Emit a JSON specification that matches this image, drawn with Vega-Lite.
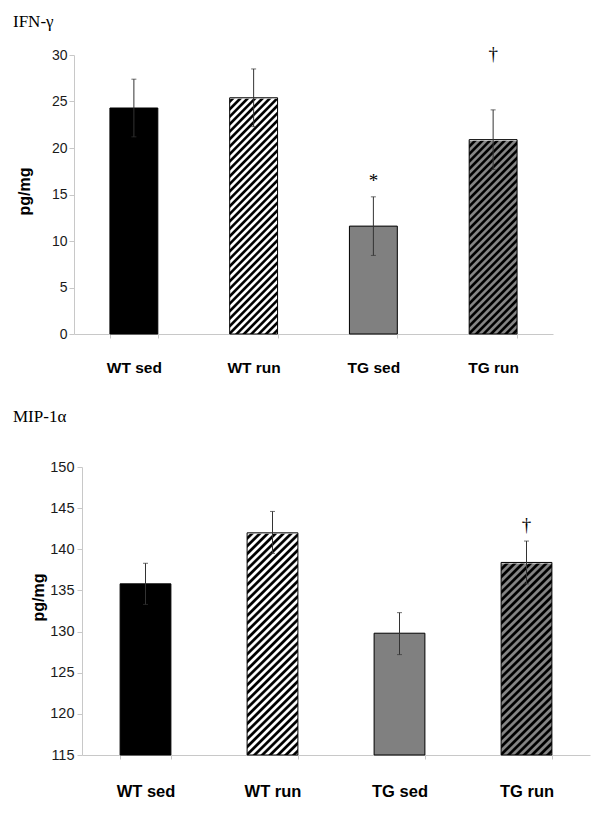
{
  "$schema": "https://vega.github.io/schema/vega-lite/v6.json",
  "background": "white",
  "padding": {"left": 13, "top": 12, "right": 10, "bottom": 10},
  "columns": 1,
  "align": "none",
  "spacing": 32,
  "resolve": {"scale": {"x": "independent", "y": "independent"}},
  "params": [
    {"name": "gWT", "value": {"gradient": "linear", "x1": 0, "y1": 0, "x2": 0.2265, "y2": 1.301, "stops": [
        {"offset":0.002,"color":"#000"},{"offset":0.008,"color":"#000"},{"offset":0.012,"color":"#fff"},{"offset":0.018,"color":"#fff"},{"offset":0.022,"color":"#000"},{"offset":0.028,"color":"#000"},{"offset":0.032,"color":"#fff"},{"offset":0.038,"color":"#fff"},{"offset":0.042,"color":"#000"},{"offset":0.048,"color":"#000"},{"offset":0.052,"color":"#fff"},{"offset":0.058,"color":"#fff"},{"offset":0.062,"color":"#000"},{"offset":0.068,"color":"#000"},{"offset":0.072,"color":"#fff"},{"offset":0.078,"color":"#fff"},{"offset":0.082,"color":"#000"},{"offset":0.088,"color":"#000"},{"offset":0.092,"color":"#fff"},{"offset":0.098,"color":"#fff"},
        {"offset":0.102,"color":"#000"},{"offset":0.108,"color":"#000"},{"offset":0.112,"color":"#fff"},{"offset":0.118,"color":"#fff"},{"offset":0.122,"color":"#000"},{"offset":0.128,"color":"#000"},{"offset":0.132,"color":"#fff"},{"offset":0.138,"color":"#fff"},{"offset":0.142,"color":"#000"},{"offset":0.148,"color":"#000"},{"offset":0.152,"color":"#fff"},{"offset":0.158,"color":"#fff"},{"offset":0.162,"color":"#000"},{"offset":0.168,"color":"#000"},{"offset":0.172,"color":"#fff"},{"offset":0.178,"color":"#fff"},{"offset":0.182,"color":"#000"},{"offset":0.188,"color":"#000"},{"offset":0.192,"color":"#fff"},{"offset":0.198,"color":"#fff"},
        {"offset":0.202,"color":"#000"},{"offset":0.208,"color":"#000"},{"offset":0.212,"color":"#fff"},{"offset":0.218,"color":"#fff"},{"offset":0.222,"color":"#000"},{"offset":0.228,"color":"#000"},{"offset":0.232,"color":"#fff"},{"offset":0.238,"color":"#fff"},{"offset":0.242,"color":"#000"},{"offset":0.248,"color":"#000"},{"offset":0.252,"color":"#fff"},{"offset":0.258,"color":"#fff"},{"offset":0.262,"color":"#000"},{"offset":0.268,"color":"#000"},{"offset":0.272,"color":"#fff"},{"offset":0.278,"color":"#fff"},{"offset":0.282,"color":"#000"},{"offset":0.288,"color":"#000"},{"offset":0.292,"color":"#fff"},{"offset":0.298,"color":"#fff"},
        {"offset":0.302,"color":"#000"},{"offset":0.308,"color":"#000"},{"offset":0.312,"color":"#fff"},{"offset":0.318,"color":"#fff"},{"offset":0.322,"color":"#000"},{"offset":0.328,"color":"#000"},{"offset":0.332,"color":"#fff"},{"offset":0.338,"color":"#fff"},{"offset":0.342,"color":"#000"},{"offset":0.348,"color":"#000"},{"offset":0.352,"color":"#fff"},{"offset":0.358,"color":"#fff"},{"offset":0.362,"color":"#000"},{"offset":0.368,"color":"#000"},{"offset":0.372,"color":"#fff"},{"offset":0.378,"color":"#fff"},{"offset":0.382,"color":"#000"},{"offset":0.388,"color":"#000"},{"offset":0.392,"color":"#fff"},{"offset":0.398,"color":"#fff"},
        {"offset":0.402,"color":"#000"},{"offset":0.408,"color":"#000"},{"offset":0.412,"color":"#fff"},{"offset":0.418,"color":"#fff"},{"offset":0.422,"color":"#000"},{"offset":0.428,"color":"#000"},{"offset":0.432,"color":"#fff"},{"offset":0.438,"color":"#fff"},{"offset":0.442,"color":"#000"},{"offset":0.448,"color":"#000"},{"offset":0.452,"color":"#fff"},{"offset":0.458,"color":"#fff"},{"offset":0.462,"color":"#000"},{"offset":0.468,"color":"#000"},{"offset":0.472,"color":"#fff"},{"offset":0.478,"color":"#fff"},{"offset":0.482,"color":"#000"},{"offset":0.488,"color":"#000"},{"offset":0.492,"color":"#fff"},{"offset":0.498,"color":"#fff"},
        {"offset":0.502,"color":"#000"},{"offset":0.508,"color":"#000"},{"offset":0.512,"color":"#fff"},{"offset":0.518,"color":"#fff"},{"offset":0.522,"color":"#000"},{"offset":0.528,"color":"#000"},{"offset":0.532,"color":"#fff"},{"offset":0.538,"color":"#fff"},{"offset":0.542,"color":"#000"},{"offset":0.548,"color":"#000"},{"offset":0.552,"color":"#fff"},{"offset":0.558,"color":"#fff"},{"offset":0.562,"color":"#000"},{"offset":0.568,"color":"#000"},{"offset":0.572,"color":"#fff"},{"offset":0.578,"color":"#fff"},{"offset":0.582,"color":"#000"},{"offset":0.588,"color":"#000"},{"offset":0.592,"color":"#fff"},{"offset":0.598,"color":"#fff"},
        {"offset":0.602,"color":"#000"},{"offset":0.608,"color":"#000"},{"offset":0.612,"color":"#fff"},{"offset":0.618,"color":"#fff"},{"offset":0.622,"color":"#000"},{"offset":0.628,"color":"#000"},{"offset":0.632,"color":"#fff"},{"offset":0.638,"color":"#fff"},{"offset":0.642,"color":"#000"},{"offset":0.648,"color":"#000"},{"offset":0.652,"color":"#fff"},{"offset":0.658,"color":"#fff"},{"offset":0.662,"color":"#000"},{"offset":0.668,"color":"#000"},{"offset":0.672,"color":"#fff"},{"offset":0.678,"color":"#fff"},{"offset":0.682,"color":"#000"},{"offset":0.688,"color":"#000"},{"offset":0.692,"color":"#fff"},{"offset":0.698,"color":"#fff"},
        {"offset":0.702,"color":"#000"},{"offset":0.708,"color":"#000"},{"offset":0.712,"color":"#fff"},{"offset":0.718,"color":"#fff"},{"offset":0.722,"color":"#000"},{"offset":0.728,"color":"#000"},{"offset":0.732,"color":"#fff"},{"offset":0.738,"color":"#fff"},{"offset":0.742,"color":"#000"},{"offset":0.748,"color":"#000"},{"offset":0.752,"color":"#fff"},{"offset":0.758,"color":"#fff"},{"offset":0.762,"color":"#000"},{"offset":0.768,"color":"#000"},{"offset":0.772,"color":"#fff"},{"offset":0.778,"color":"#fff"},{"offset":0.782,"color":"#000"},{"offset":0.788,"color":"#000"},{"offset":0.792,"color":"#fff"},{"offset":0.798,"color":"#fff"},
        {"offset":0.802,"color":"#000"},{"offset":0.808,"color":"#000"},{"offset":0.812,"color":"#fff"},{"offset":0.818,"color":"#fff"},{"offset":0.822,"color":"#000"},{"offset":0.828,"color":"#000"},{"offset":0.832,"color":"#fff"},{"offset":0.838,"color":"#fff"},{"offset":0.842,"color":"#000"},{"offset":0.848,"color":"#000"},{"offset":0.852,"color":"#fff"},{"offset":0.858,"color":"#fff"},{"offset":0.862,"color":"#000"},{"offset":0.868,"color":"#000"},{"offset":0.872,"color":"#fff"},{"offset":0.878,"color":"#fff"},{"offset":0.882,"color":"#000"},{"offset":0.888,"color":"#000"},{"offset":0.892,"color":"#fff"},{"offset":0.898,"color":"#fff"}
      ]}},
    {"name": "gTG", "value": {"gradient": "linear", "x1": 0, "y1": 0, "x2": 0.2265, "y2": 1.301, "stops": [
        {"offset":0.002,"color":"#000"},{"offset":0.008,"color":"#000"},{"offset":0.012,"color":"#858585"},{"offset":0.018,"color":"#858585"},{"offset":0.022,"color":"#000"},{"offset":0.028,"color":"#000"},{"offset":0.032,"color":"#858585"},{"offset":0.038,"color":"#858585"},{"offset":0.042,"color":"#000"},{"offset":0.048,"color":"#000"},{"offset":0.052,"color":"#858585"},{"offset":0.058,"color":"#858585"},{"offset":0.062,"color":"#000"},{"offset":0.068,"color":"#000"},{"offset":0.072,"color":"#858585"},{"offset":0.078,"color":"#858585"},{"offset":0.082,"color":"#000"},{"offset":0.088,"color":"#000"},{"offset":0.092,"color":"#858585"},{"offset":0.098,"color":"#858585"},
        {"offset":0.102,"color":"#000"},{"offset":0.108,"color":"#000"},{"offset":0.112,"color":"#858585"},{"offset":0.118,"color":"#858585"},{"offset":0.122,"color":"#000"},{"offset":0.128,"color":"#000"},{"offset":0.132,"color":"#858585"},{"offset":0.138,"color":"#858585"},{"offset":0.142,"color":"#000"},{"offset":0.148,"color":"#000"},{"offset":0.152,"color":"#858585"},{"offset":0.158,"color":"#858585"},{"offset":0.162,"color":"#000"},{"offset":0.168,"color":"#000"},{"offset":0.172,"color":"#858585"},{"offset":0.178,"color":"#858585"},{"offset":0.182,"color":"#000"},{"offset":0.188,"color":"#000"},{"offset":0.192,"color":"#858585"},{"offset":0.198,"color":"#858585"},
        {"offset":0.202,"color":"#000"},{"offset":0.208,"color":"#000"},{"offset":0.212,"color":"#858585"},{"offset":0.218,"color":"#858585"},{"offset":0.222,"color":"#000"},{"offset":0.228,"color":"#000"},{"offset":0.232,"color":"#858585"},{"offset":0.238,"color":"#858585"},{"offset":0.242,"color":"#000"},{"offset":0.248,"color":"#000"},{"offset":0.252,"color":"#858585"},{"offset":0.258,"color":"#858585"},{"offset":0.262,"color":"#000"},{"offset":0.268,"color":"#000"},{"offset":0.272,"color":"#858585"},{"offset":0.278,"color":"#858585"},{"offset":0.282,"color":"#000"},{"offset":0.288,"color":"#000"},{"offset":0.292,"color":"#858585"},{"offset":0.298,"color":"#858585"},
        {"offset":0.302,"color":"#000"},{"offset":0.308,"color":"#000"},{"offset":0.312,"color":"#858585"},{"offset":0.318,"color":"#858585"},{"offset":0.322,"color":"#000"},{"offset":0.328,"color":"#000"},{"offset":0.332,"color":"#858585"},{"offset":0.338,"color":"#858585"},{"offset":0.342,"color":"#000"},{"offset":0.348,"color":"#000"},{"offset":0.352,"color":"#858585"},{"offset":0.358,"color":"#858585"},{"offset":0.362,"color":"#000"},{"offset":0.368,"color":"#000"},{"offset":0.372,"color":"#858585"},{"offset":0.378,"color":"#858585"},{"offset":0.382,"color":"#000"},{"offset":0.388,"color":"#000"},{"offset":0.392,"color":"#858585"},{"offset":0.398,"color":"#858585"},
        {"offset":0.402,"color":"#000"},{"offset":0.408,"color":"#000"},{"offset":0.412,"color":"#858585"},{"offset":0.418,"color":"#858585"},{"offset":0.422,"color":"#000"},{"offset":0.428,"color":"#000"},{"offset":0.432,"color":"#858585"},{"offset":0.438,"color":"#858585"},{"offset":0.442,"color":"#000"},{"offset":0.448,"color":"#000"},{"offset":0.452,"color":"#858585"},{"offset":0.458,"color":"#858585"},{"offset":0.462,"color":"#000"},{"offset":0.468,"color":"#000"},{"offset":0.472,"color":"#858585"},{"offset":0.478,"color":"#858585"},{"offset":0.482,"color":"#000"},{"offset":0.488,"color":"#000"},{"offset":0.492,"color":"#858585"},{"offset":0.498,"color":"#858585"},
        {"offset":0.502,"color":"#000"},{"offset":0.508,"color":"#000"},{"offset":0.512,"color":"#858585"},{"offset":0.518,"color":"#858585"},{"offset":0.522,"color":"#000"},{"offset":0.528,"color":"#000"},{"offset":0.532,"color":"#858585"},{"offset":0.538,"color":"#858585"},{"offset":0.542,"color":"#000"},{"offset":0.548,"color":"#000"},{"offset":0.552,"color":"#858585"},{"offset":0.558,"color":"#858585"},{"offset":0.562,"color":"#000"},{"offset":0.568,"color":"#000"},{"offset":0.572,"color":"#858585"},{"offset":0.578,"color":"#858585"},{"offset":0.582,"color":"#000"},{"offset":0.588,"color":"#000"},{"offset":0.592,"color":"#858585"},{"offset":0.598,"color":"#858585"},
        {"offset":0.602,"color":"#000"},{"offset":0.608,"color":"#000"},{"offset":0.612,"color":"#858585"},{"offset":0.618,"color":"#858585"},{"offset":0.622,"color":"#000"},{"offset":0.628,"color":"#000"},{"offset":0.632,"color":"#858585"},{"offset":0.638,"color":"#858585"},{"offset":0.642,"color":"#000"},{"offset":0.648,"color":"#000"},{"offset":0.652,"color":"#858585"},{"offset":0.658,"color":"#858585"},{"offset":0.662,"color":"#000"},{"offset":0.668,"color":"#000"},{"offset":0.672,"color":"#858585"},{"offset":0.678,"color":"#858585"},{"offset":0.682,"color":"#000"},{"offset":0.688,"color":"#000"},{"offset":0.692,"color":"#858585"},{"offset":0.698,"color":"#858585"},
        {"offset":0.702,"color":"#000"},{"offset":0.708,"color":"#000"},{"offset":0.712,"color":"#858585"},{"offset":0.718,"color":"#858585"},{"offset":0.722,"color":"#000"},{"offset":0.728,"color":"#000"},{"offset":0.732,"color":"#858585"},{"offset":0.738,"color":"#858585"},{"offset":0.742,"color":"#000"},{"offset":0.748,"color":"#000"},{"offset":0.752,"color":"#858585"},{"offset":0.758,"color":"#858585"},{"offset":0.762,"color":"#000"},{"offset":0.768,"color":"#000"},{"offset":0.772,"color":"#858585"},{"offset":0.778,"color":"#858585"},{"offset":0.782,"color":"#000"},{"offset":0.788,"color":"#000"},{"offset":0.792,"color":"#858585"},{"offset":0.798,"color":"#858585"},
        {"offset":0.802,"color":"#000"},{"offset":0.808,"color":"#000"},{"offset":0.812,"color":"#858585"},{"offset":0.818,"color":"#858585"},{"offset":0.822,"color":"#000"},{"offset":0.828,"color":"#000"},{"offset":0.832,"color":"#858585"},{"offset":0.838,"color":"#858585"},{"offset":0.842,"color":"#000"},{"offset":0.848,"color":"#000"},{"offset":0.852,"color":"#858585"},{"offset":0.858,"color":"#858585"},{"offset":0.862,"color":"#000"},{"offset":0.868,"color":"#000"},{"offset":0.872,"color":"#858585"},{"offset":0.878,"color":"#858585"},{"offset":0.882,"color":"#000"},{"offset":0.888,"color":"#000"},{"offset":0.892,"color":"#858585"},{"offset":0.898,"color":"#858585"}
      ]}}
  ],
  "config": {
    "view": {"stroke": null},
    "axis": {"domainColor": "#c8c8c8", "tickColor": "#c8c8c8", "grid": false, "labelFont": "Liberation Sans", "titleFont": "Liberation Sans", "labelColor": "#1a1a1a", "titleColor": "#000"},
    "axisY": {"tickSize": 5, "labelPadding": 2, "titleFontSize": 16, "titleFontWeight": "bold", "titleAngle": 270, "titleAlign": "center", "titleBaseline": "middle"},
    "axisX": {"labelAngle": 0, "labelFontWeight": "bold", "labelColor": "#000", "tickSize": 4, "tickBand": "extent"}
  },
  "concat": [
    {
      "width": 479,
      "height": 279,
      "title": {"text": "IFN-γ", "anchor": "start", "frame": "group", "dx": -69, "offset": 1, "baseline": "alphabetic", "font": "Liberation Serif", "fontSize": 17, "fontWeight": "normal", "color": "#000"},
      "data": {"values": [
        {"group": "WT sed", "mean": 24.3, "lo": 21.2, "hi": 27.4, "sig": "", "sigY": null},
        {"group": "WT run", "mean": 25.4, "lo": 22.3, "hi": 28.5, "sig": "", "sigY": null},
        {"group": "TG sed", "mean": 11.6, "lo": 8.45, "hi": 14.75, "sig": "*", "sigY": 15.8},
        {"group": "TG run", "mean": 20.9, "lo": 17.7, "hi": 24.1, "sig": "†", "sigY": 29.5}
      ]},
      "encoding": {
        "x": {"field": "group", "type": "nominal", "sort": ["WT sed", "WT run", "TG sed", "TG run"],
          "scale": {"paddingInner": 0.6, "paddingOuter": 0.3, "range": [-8, 471]},
          "axis": {"title": null, "labelFontSize": 15.5, "labelPadding": 22}}
      },
      "layer": [
        {"transform": [{"filter": "datum.group === 'WT run'"}], "mark": {"type": "bar", "fill": {"expr": "gWT"}, "strokeWidth": 0},
          "encoding": {"y": {"datum": 30, "type": "quantitative", "scale": {"domain": [0, 30], "nice": false, "zero": false},
            "axis": {"values": [0, 5, 10, 15, 20, 25, 30], "title": "pg/mg", "labelFontSize": 14, "offset": 8, "titleX": -50, "titleY": 136}},
            "y2": {"datum": 0}}},
        {"transform": [{"filter": "datum.group === 'TG run'"}], "mark": {"type": "bar", "fill": {"expr": "gTG"}, "strokeWidth": 0},
          "encoding": {"y": {"datum": 30, "type": "quantitative", "axis": {"values": [0, 5, 10, 15, 20, 25, 30], "title": "pg/mg", "labelFontSize": 14, "offset": 8, "titleX": -50, "titleY": 136}}, "y2": {"datum": 0}}},
        {"transform": [{"filter": "datum.group === 'WT run' || datum.group === 'TG run'"}], "mark": {"type": "bar", "fill": "#fff", "stroke": "#fff", "strokeWidth": 2},
          "encoding": {"y": {"field": "mean", "type": "quantitative", "axis": {"values": [0, 5, 10, 15, 20, 25, 30], "title": "pg/mg", "labelFontSize": 14, "offset": 8, "titleX": -50, "titleY": 136}}, "y2": {"datum": 30}}},
        {"mark": {"type": "bar", "stroke": "#000", "strokeWidth": 1},
          "encoding": {"y": {"field": "mean", "type": "quantitative", "axis": {"values": [0, 5, 10, 15, 20, 25, 30], "title": "pg/mg", "labelFontSize": 14, "offset": 8, "titleX": -50, "titleY": 136}}, "y2": {"datum": 0},
            "fill": {"field": "group", "type": "nominal", "scale": {"domain": ["WT sed", "WT run", "TG sed", "TG run"], "range": ["#000000", "transparent", "#808080", "transparent"]}, "legend": null}}},
        {"mark": {"type": "rule", "color": "#333", "strokeWidth": 1},
          "encoding": {"y": {"field": "lo", "type": "quantitative", "axis": {"values": [0, 5, 10, 15, 20, 25, 30], "title": "pg/mg", "labelFontSize": 14, "offset": 8, "titleX": -50, "titleY": 136}}, "y2": {"field": "hi"}}},
        {"mark": {"type": "tick", "color": "#333", "size": 5, "thickness": 1},
          "encoding": {"y": {"field": "hi", "type": "quantitative", "axis": {"values": [0, 5, 10, 15, 20, 25, 30], "title": "pg/mg", "labelFontSize": 14, "offset": 8, "titleX": -50, "titleY": 136}}}},
        {"mark": {"type": "tick", "color": "#333", "size": 5, "thickness": 1},
          "encoding": {"y": {"field": "lo", "type": "quantitative", "axis": {"values": [0, 5, 10, 15, 20, 25, 30], "title": "pg/mg", "labelFontSize": 14, "offset": 8, "titleX": -50, "titleY": 136}}}},
        {"transform": [{"filter": "datum.sig !== ''"}], "mark": {"type": "text", "font": "Liberation Serif", "fontSize": 19, "baseline": "alphabetic", "color": "#000"},
          "encoding": {"y": {"field": "sigY", "type": "quantitative", "axis": {"values": [0, 5, 10, 15, 20, 25, 30], "title": "pg/mg", "labelFontSize": 14, "offset": 8, "titleX": -50, "titleY": 136}}, "text": {"field": "sig"}}}
      ]
    },
    {
      "width": 508,
      "height": 288,
      "title": {"text": "MIP-1α", "anchor": "start", "frame": "group", "dx": -69, "offset": 20, "baseline": "alphabetic", "font": "Liberation Serif", "fontSize": 17, "fontWeight": "normal", "color": "#000"},
      "data": {"values": [
        {"group": "WT sed", "mean": 135.8, "lo": 133.3, "hi": 138.3, "sig": "", "sigY": null},
        {"group": "WT run", "mean": 142.0, "lo": 139.5, "hi": 144.6, "sig": "", "sigY": null},
        {"group": "TG sed", "mean": 129.8, "lo": 127.2, "hi": 132.3, "sig": "", "sigY": null},
        {"group": "TG run", "mean": 138.4, "lo": 135.8, "hi": 141.0, "sig": "†", "sigY": 142.2}
      ]},
      "encoding": {
        "x": {"field": "group", "type": "nominal", "sort": ["WT sed", "WT run", "TG sed", "TG run"],
          "scale": {"paddingInner": 0.6, "paddingOuter": 0.3},
          "axis": {"title": null, "labelFontSize": 16.5, "labelPadding": 24}}
      },
      "layer": [
        {"transform": [{"filter": "datum.group === 'WT run'"}], "mark": {"type": "bar", "fill": {"expr": "gWT"}, "strokeWidth": 0},
          "encoding": {"y": {"datum": 150, "type": "quantitative", "scale": {"domain": [115, 150], "nice": false, "zero": false},
            "axis": {"values": [115, 120, 125, 130, 135, 140, 145, 150], "title": "pg/mg", "labelFontSize": 14.5, "labelPadding": 3, "titleX": -44, "titleY": 130}},
            "y2": {"datum": 115}}},
        {"transform": [{"filter": "datum.group === 'TG run'"}], "mark": {"type": "bar", "fill": {"expr": "gTG"}, "strokeWidth": 0},
          "encoding": {"y": {"datum": 150, "type": "quantitative", "axis": {"values": [115, 120, 125, 130, 135, 140, 145, 150], "title": "pg/mg", "labelFontSize": 14.5, "labelPadding": 3, "titleX": -44, "titleY": 130}}, "y2": {"datum": 115}}},
        {"transform": [{"filter": "datum.group === 'WT run' || datum.group === 'TG run'"}], "mark": {"type": "bar", "fill": "#fff", "stroke": "#fff", "strokeWidth": 2},
          "encoding": {"y": {"field": "mean", "type": "quantitative", "axis": {"values": [115, 120, 125, 130, 135, 140, 145, 150], "title": "pg/mg", "labelFontSize": 14.5, "labelPadding": 3, "titleX": -44, "titleY": 130}}, "y2": {"datum": 150}}},
        {"mark": {"type": "bar", "stroke": "#000", "strokeWidth": 1},
          "encoding": {"y": {"field": "mean", "type": "quantitative", "axis": {"values": [115, 120, 125, 130, 135, 140, 145, 150], "title": "pg/mg", "labelFontSize": 14.5, "labelPadding": 3, "titleX": -44, "titleY": 130}}, "y2": {"datum": 115},
            "fill": {"field": "group", "type": "nominal", "scale": {"domain": ["WT sed", "WT run", "TG sed", "TG run"], "range": ["#000000", "transparent", "#808080", "transparent"]}, "legend": null}}},
        {"mark": {"type": "rule", "color": "#333", "strokeWidth": 1},
          "encoding": {"y": {"field": "lo", "type": "quantitative", "axis": {"values": [115, 120, 125, 130, 135, 140, 145, 150], "title": "pg/mg", "labelFontSize": 14.5, "labelPadding": 3, "titleX": -44, "titleY": 130}}, "y2": {"field": "hi"}}},
        {"mark": {"type": "tick", "color": "#333", "size": 5, "thickness": 1},
          "encoding": {"y": {"field": "hi", "type": "quantitative", "axis": {"values": [115, 120, 125, 130, 135, 140, 145, 150], "title": "pg/mg", "labelFontSize": 14.5, "labelPadding": 3, "titleX": -44, "titleY": 130}}}},
        {"mark": {"type": "tick", "color": "#333", "size": 5, "thickness": 1},
          "encoding": {"y": {"field": "lo", "type": "quantitative", "axis": {"values": [115, 120, 125, 130, 135, 140, 145, 150], "title": "pg/mg", "labelFontSize": 14.5, "labelPadding": 3, "titleX": -44, "titleY": 130}}}},
        {"transform": [{"filter": "datum.sig !== ''"}], "mark": {"type": "text", "font": "Liberation Serif", "fontSize": 19, "baseline": "alphabetic", "color": "#000"},
          "encoding": {"y": {"field": "sigY", "type": "quantitative", "axis": {"values": [115, 120, 125, 130, 135, 140, 145, 150], "title": "pg/mg", "labelFontSize": 14.5, "labelPadding": 3, "titleX": -44, "titleY": 130}}, "text": {"field": "sig"}}}
      ]
    }
  ]
}
